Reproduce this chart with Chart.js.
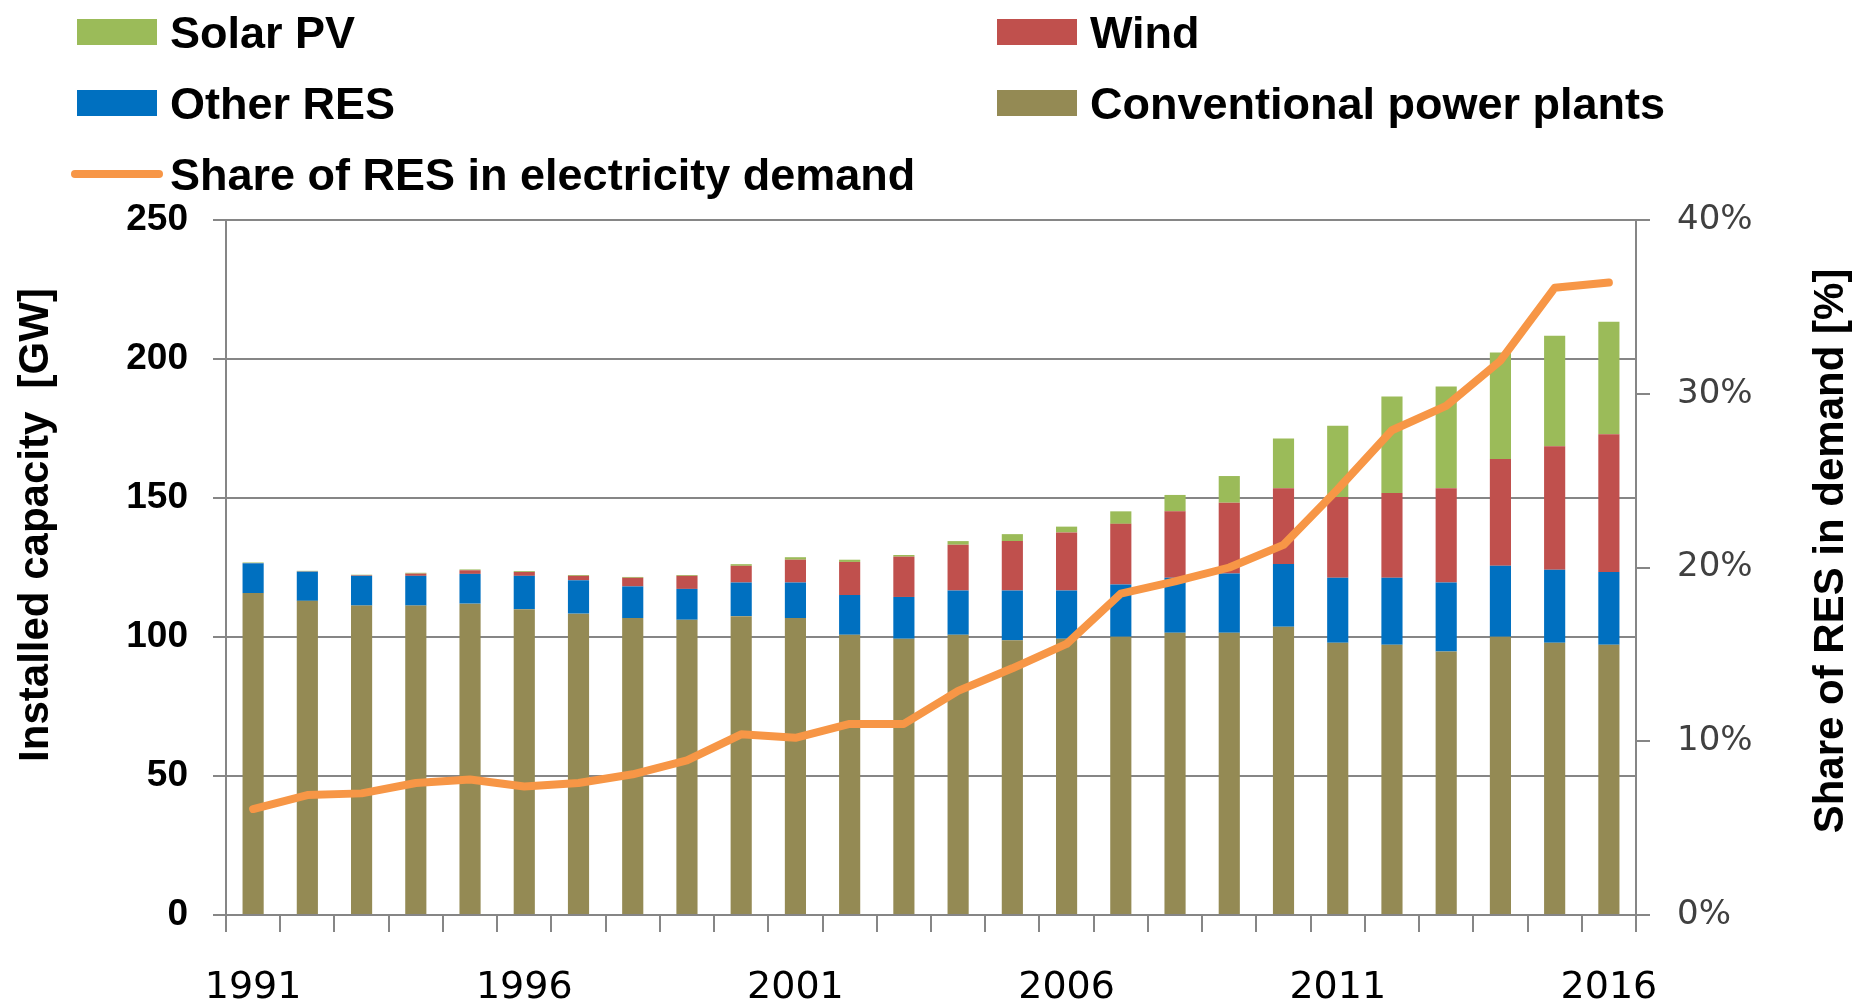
<!DOCTYPE html>
<html>
<head>
<meta charset="utf-8">
<script src="https://cdn.jsdelivr.net/npm/chart.js@4.4.0/dist/chart.umd.min.js"></script>
<style>
  html, body { margin: 0; padding: 0; background: #fff; }
  #wrap { width: 1855px; height: 1004px; }
</style>
</head>
<body>
<div id="wrap"><canvas id="capacityChart" width="1855" height="1004"></canvas></div>
<script>
// installed capacity in GW, share in %
const years = ["1991", "1992", "1993", "1994", "1995", "1996", "1997", "1998", "1999", "2000",
    "2001", "2002", "2003", "2004", "2005", "2006", "2007", "2008", "2009", "2010",
    "2011", "2012", "2013", "2014", "2015", "2016"];
const conventional = [115.8, 113.0, 111.3, 111.3, 112.0, 110.0, 108.4, 106.8, 106.2, 107.5,
    106.8, 100.8, 99.4, 100.8, 98.8, 99.4, 100.1, 101.5, 101.5, 103.7,
    97.9, 97.2, 94.8, 100.1, 97.9, 97.2];
const otherRes = [10.7, 10.5, 10.7, 10.7, 10.7, 12.0, 12.0, 11.4, 11.1, 12.1,
    12.8, 14.3, 15.0, 15.9, 17.9, 17.3, 18.8, 19.8, 21.3, 22.6,
    23.4, 24.1, 24.8, 25.5, 26.3, 26.2];
const wind = [0.1, 0.1, 0.2, 0.8, 1.3, 1.4, 1.6, 3.1, 4.7, 6.0,
    8.2, 11.9, 14.5, 16.5, 17.8, 20.9, 21.8, 23.9, 25.5, 27.2,
    29.1, 30.5, 33.9, 38.4, 44.4, 49.5];
const solar = [0.2, 0.2, 0.2, 0.3, 0.3, 0.3, 0.3, 0.3, 0.3, 0.6,
    0.9, 0.8, 0.6, 1.3, 2.5, 2.1, 4.5, 5.9, 9.6, 17.9,
    25.6, 34.7, 36.6, 38.3, 39.8, 40.5];
const resShare = [6.1, 6.9, 7.0, 7.6, 7.8, 7.4, 7.6, 8.1, 8.9, 10.4,
    10.2, 11.0, 11.0, 12.9, 14.2, 15.6, 18.5, 19.2, 20.0, 21.3,
    24.5, 27.9, 29.3, 31.9, 36.1, 36.4];

const gray = "#868686";
const boldFont = '"Liberation Sans", Arial, sans-serif';
const tickFont = '"DejaVu Sans", Verdana, sans-serif';

// legend in two columns like the original
const gridLegend = {
    id: "gridLegend",
    afterDraw(chart) {
        const ctx = chart.ctx;
        const ds = chart.data.datasets;
        const order = [3, 2, 1, 0, 4];
        ctx.save();
        ctx.font = "bold 45px " + boldFont;
        ctx.textBaseline = "alphabetic";
        order.forEach((di, i) => {
            const d = ds[di];
            const x = i % 2 === 0 ? 77 : 997;
            const y = 32 + Math.floor(i / 2) * 71;
            if (d.type === "line") {
                ctx.strokeStyle = d.borderColor;
                ctx.lineWidth = 8;
                ctx.lineCap = "round";
                ctx.beginPath();
                ctx.moveTo(x - 2, y);
                ctx.lineTo(x + 82, y);
                ctx.stroke();
            } else {
                ctx.fillStyle = d.backgroundColor;
                ctx.fillRect(x, y - 13, 80, 26);
            }
            ctx.fillStyle = "#000";
            ctx.fillText(d.label, x + 93, y + 16);
        });
        ctx.restore();
    }
};

// axis titles (right one reads bottom to top, as in the original)
const axisTitles = {
    id: "axisTitles",
    afterDraw(chart) {
        const ctx = chart.ctx;
        ctx.save();
        ctx.fillStyle = "#000";
        ctx.font = "bold 42px " + boldFont;
        ctx.textAlign = "center";
        ctx.textBaseline = "middle";
        ctx.save();
        ctx.translate(36, 525);
        ctx.rotate(-Math.PI / 2);
        ctx.fillText("Installed capacity  [GW]", 0, 0);
        ctx.restore();
        ctx.translate(1831, 551);
        ctx.rotate(-Math.PI / 2);
        ctx.fillText("Share of RES in demand [%]", 0, 0);
        ctx.restore();
    }
};

const barStyle = { yAxisID: "y", order: 1, barPercentage: 0.39, categoryPercentage: 1.0, borderWidth: 0 };

new Chart(document.getElementById("capacityChart"), {
    type: "bar",
    data: {
        labels: years,
        datasets: [
            Object.assign({ label: "Conventional power plants", data: conventional, backgroundColor: "#948A54" }, barStyle),
            Object.assign({ label: "Other RES", data: otherRes, backgroundColor: "#0070C0" }, barStyle),
            Object.assign({ label: "Wind", data: wind, backgroundColor: "#C0504D" }, barStyle),
            Object.assign({ label: "Solar PV", data: solar, backgroundColor: "#9BBB59" }, barStyle),
            {
                type: "line",
                label: "Share of RES in electricity demand",
                data: resShare,
                yAxisID: "y1",
                order: 0,
                borderColor: "#F79646",
                backgroundColor: "#F79646",
                borderWidth: 8,
                borderCapStyle: "round",
                borderJoinStyle: "round",
                pointRadius: 0,
                tension: 0
            }
        ]
    },
    options: {
        responsive: false,
        animation: false,
        layout: { padding: { top: 220, left: 0, right: 0, bottom: 0 } },
        plugins: {
            legend: { display: false },
            tooltip: { enabled: false }
        },
        scales: {
            x: {
                stacked: true,
                grid: { offset: true, drawOnChartArea: false, color: gray, lineWidth: 2, tickLength: 17 },
                border: { color: gray, width: 2 },
                ticks: {
                    autoSkip: false,
                    maxRotation: 0,
                    padding: 33,
                    color: "#000",
                    font: { family: tickFont, size: 38 },
                    callback: function (value, index) {
                        return index % 5 === 0 ? this.getLabelForValue(value) : "";
                    }
                },
                afterFit: function (scale) { scale.height = 89; }
            },
            y: {
                stacked: true,
                min: 0,
                max: 250,
                grid: { color: gray, lineWidth: 2, tickLength: 13 },
                border: { color: gray, width: 2 },
                ticks: {
                    stepSize: 50,
                    padding: 25,
                    color: "#000",
                    font: { family: boldFont, size: 37, weight: "bold" }
                },
                afterFit: function (scale) { scale.width = 226; }
            },
            y1: {
                position: "right",
                min: 0,
                max: 40,
                grid: { drawOnChartArea: false, color: gray, lineWidth: 2, tickLength: 14 },
                border: { color: gray, width: 2 },
                ticks: {
                    stepSize: 10,
                    padding: 27,
                    color: "#404040",
                    font: { family: tickFont, size: 34 },
                    callback: v => v + "%"
                },
                afterFit: function (scale) { scale.width = 219; }
            }
        }
    },
    plugins: [gridLegend, axisTitles]
});
</script>
</body>
</html>
